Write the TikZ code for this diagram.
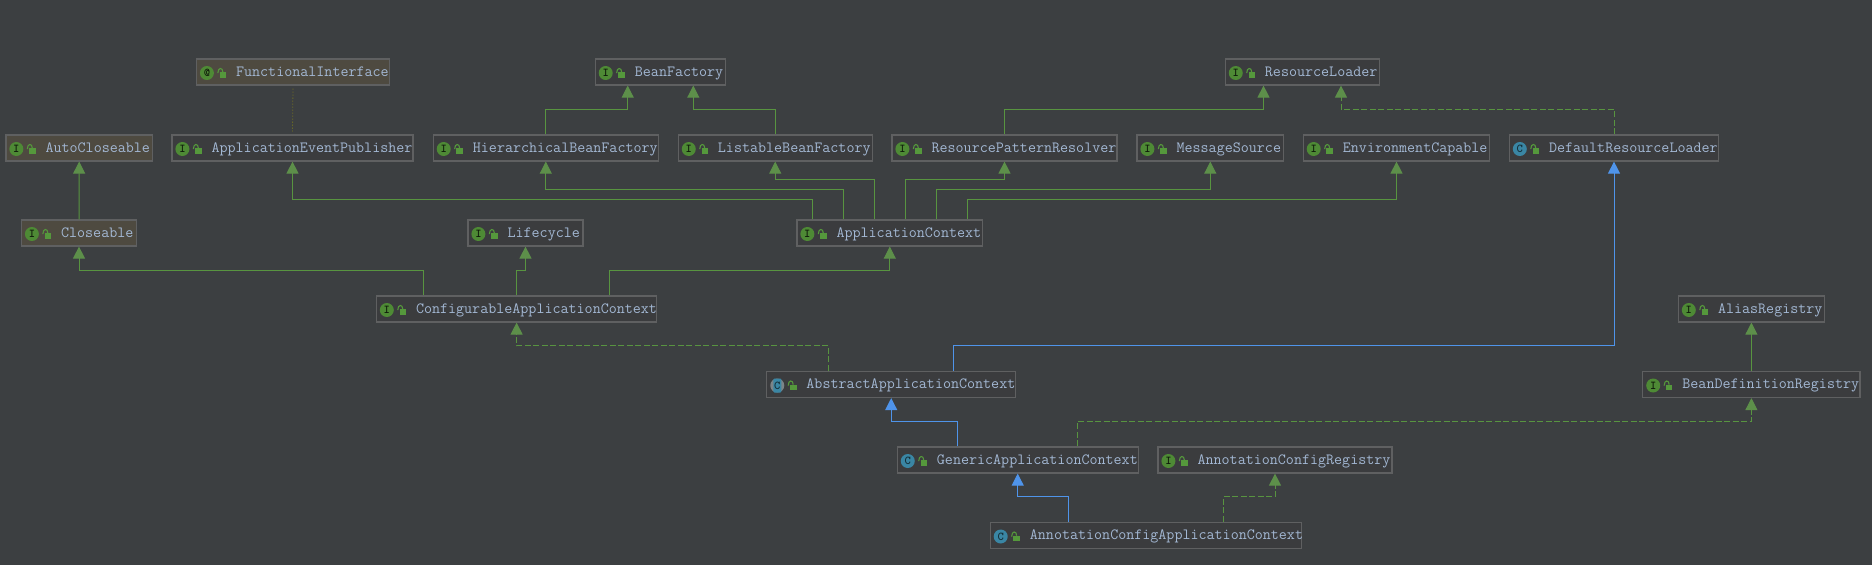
\documentclass[tikz,border=0pt]{standalone}
\usetikzlibrary{arrows.meta}

\definecolor{bgcol}{HTML}{3C3F41}
\definecolor{plainfill}{HTML}{3B3C3E}
\definecolor{jdkfill}{HTML}{4E4A40}
\definecolor{boxline}{HTML}{5F6061}
\definecolor{textcol}{HTML}{A3B8D4}
\definecolor{greenline}{HTML}{589440}
\definecolor{greentip}{HTML}{5D8F4A}
\definecolor{blueline}{HTML}{4F94EA}
\definecolor{icongreen}{HTML}{4E8A35}
\definecolor{iconteal}{HTML}{3A86A4}
\definecolor{icongrey}{HTML}{7C8488}
\definecolor{lockgreen}{HTML}{55983C}
\definecolor{dotcol}{HTML}{7D7B1C}

\tikzset{
  plainbox/.style={draw=boxline, line width=1.1pt, fill=plainfill, minimum height=26pt, inner sep=0pt, outer sep=0.6pt},
  jdkbox/.style={plainbox, fill=jdkfill},
  classtext/.style={anchor=base west, inner sep=0pt, text=textcol, font=\ttfamily\fontsize{15.6}{16}\selectfont},
  iface/.style={circle, fill=icongreen, minimum size=14pt, inner sep=0pt, text=black!80!icongreen, font=\ttfamily\bfseries\fontsize{12}{12}\selectfont},
  cls/.style={iface, fill=iconteal, text=black!65!iconteal},
  abscls/.style={cls, rectangle, rounded corners=1pt, minimum width=8pt, minimum height=14pt},
  absring/.style={circle, fill=icongrey, minimum size=14pt, inner sep=0pt},
  lockbody/.style={rectangle, fill=lockgreen, minimum width=6.5pt, minimum height=5.4pt, inner sep=0pt},
  lockshackle/.style={draw=lockgreen, line width=1.1pt},
  extendsline/.style={draw=greenline, line width=1pt, -{Triangle[length=12pt,width=12pt,fill=greentip,color=greentip]}},
  implementsline/.style={extendsline, dash pattern=on 6pt off 2.5pt},
  classline/.style={draw=blueline, line width=1pt, -{Triangle[length=12pt,width=12pt,fill=blueline,color=blueline]}},
  annotline/.style={draw=dotcol, line width=0.8pt, dash pattern=on 1pt off 2pt, shorten <=3pt, shorten >=3pt},
}

% box style, name, centre x, centre y, width, icon style, icon letter, text
\newcommand{\classnode}[8]{
  \node[#1, minimum width=#5pt] (#2) at (#3,#4) {};
  \node[#6] (#2icon) at ([xshift=11pt,yshift=-1pt]#2.west) {#7};
  \node[lockbody] (#2lock) at ([xshift=27pt,yshift=-3pt]#2.west) {};
  \draw[lockshackle] ([xshift=-1.6pt,yshift=-1pt]#2lock.north west) .. controls ([xshift=-1.6pt,yshift=5pt]#2lock.north west) and ([xshift=3.4pt,yshift=5pt]#2lock.north west) .. ([xshift=3.4pt]#2lock.north west);
  \node[classtext] (#2text) at ([xshift=40pt,yshift=-4pt]#2.west) {#8};
}

\begin{document}
\begin{tikzpicture}[x=1pt, y=-1pt]
\fill[bgcol] (0,0) rectangle (1872,565);
\useasboundingbox (0,0) rectangle (1872,565);

% top rows
\classnode{jdkbox}{functional}{293}{72}{193}{iface}{@}{FunctionalInterface}
\classnode{plainbox}{beanfactory}{660.5}{72}{130.4}{iface}{I}{BeanFactory}
\classnode{plainbox}{resloader}{1302.2}{72}{153.7}{iface}{I}{ResourceLoader}

\classnode{jdkbox}{autocloseable}{79.2}{148}{146.5}{iface}{I}{AutoCloseable}
\classnode{plainbox}{publisher}{292.5}{148}{241}{iface}{I}{ApplicationEventPublisher}
\classnode{plainbox}{hierarchical}{545.8}{148}{225}{iface}{I}{HierarchicalBeanFactory}
\classnode{plainbox}{listable}{775.2}{148}{193.7}{iface}{I}{ListableBeanFactory}
\classnode{plainbox}{patternres}{1004.5}{148}{225}{iface}{I}{ResourcePatternResolver}
\classnode{plainbox}{msgsource}{1210.3}{148}{146.6}{iface}{I}{MessageSource}
\classnode{plainbox}{envcapable}{1396.5}{148}{186.4}{iface}{I}{EnvironmentCapable}
\classnode{plainbox}{defloader}{1614}{148}{209.2}{cls}{C}{DefaultResourceLoader}

\classnode{jdkbox}{closeable}{79}{233}{115}{iface}{I}{Closeable}
\classnode{plainbox}{lifecycle}{525.5}{233}{115}{iface}{I}{Lifecycle}
\classnode{plainbox}{appctx}{889.8}{233}{185.7}{iface}{I}{ApplicationContext}

\classnode{plainbox}{confctx}{516.6}{309}{280.4}{iface}{I}{ConfigurableApplicationContext}
\classnode{plainbox}{alias}{1751.4}{309}{146}{iface}{I}{AliasRegistry}

% lower rows
\classnode{plainbox}{absctx}{891.2}{384.5}{248.7}{absring}{}{AbstractApplicationContext}
\node[abscls] (absctxstrip) at (absctxicon) {C};
\classnode{plainbox}{beandef}{1751.4}{384.5}{217.2}{iface}{I}{BeanDefinitionRegistry}
\classnode{plainbox}{genctx}{1017.7}{460}{240.7}{cls}{C}{GenericApplicationContext}
\classnode{plainbox}{annreg}{1275}{460}{234}{iface}{I}{AnnotationConfigRegistry}
\classnode{plainbox}{annctx}{1145.8}{535.5}{311}{cls}{C}{AnnotationConfigApplicationContext}

% connectors
\draw[annotline] (functional.south) -- (publisher.north);
\draw[extendsline] (closeable.north) -- (autocloseable.south);
\draw[extendsline] (beandef.north) -- (alias.south);

\draw[extendsline] (hierarchical.north) -- ++(0,-25) -| ([xshift=-32.8pt]beanfactory.south);
\draw[extendsline] (listable.north) -- ++(0,-25) -| ([xshift=32.8pt]beanfactory.south);
\draw[extendsline] (patternres.north) -- ++(0,-25) -| ([xshift=-38.7pt]resloader.south);
\draw[implementsline] (defloader.north) -- ++(0,-25) -| ([xshift=38.8pt]resloader.south);

\draw[extendsline] ([xshift=-77pt]appctx.north) -- ++(0,-20) -| (publisher.south);
\draw[extendsline] ([xshift=-46.5pt]appctx.north) -- ++(0,-30) -| (hierarchical.south);
\draw[extendsline] ([xshift=-15.5pt]appctx.north) -- ++(0,-40) -| (listable.south);
\draw[extendsline] ([xshift=15.5pt]appctx.north) -- ++(0,-40) -| (patternres.south);
\draw[extendsline] ([xshift=46.5pt]appctx.north) -- ++(0,-30) -| (msgsource.south);
\draw[extendsline] ([xshift=77.5pt]appctx.north) -- ++(0,-20) -| (envcapable.south);

\draw[extendsline] ([xshift=-93pt]confctx.north) -- ++(0,-25) -| (closeable.south);
\draw[extendsline] (confctx.north) -- ++(0,-25) -| (lifecycle.south);
\draw[extendsline] ([xshift=92.7pt]confctx.north) -- ++(0,-25) -| (appctx.south);

\draw[implementsline] ([xshift=-62.5pt]absctx.north) -- ++(0,-25) -| (confctx.south);
\draw[classline] ([xshift=62pt]absctx.north) -- ++(0,-25) -| (defloader.south);

\draw[classline] ([xshift=-60.3pt]genctx.north) -- ++(0,-25) -| (absctx.south);
\draw[implementsline] ([xshift=59.8pt]genctx.north) -- ++(0,-25) -| (beandef.south);

\draw[classline] ([xshift=-77.4pt]annctx.north) -- ++(0,-25) -| (genctx.south);
\draw[implementsline] ([xshift=77.6pt]annctx.north) -- ++(0,-25) -| (annreg.south);
\end{tikzpicture}
\end{document}
